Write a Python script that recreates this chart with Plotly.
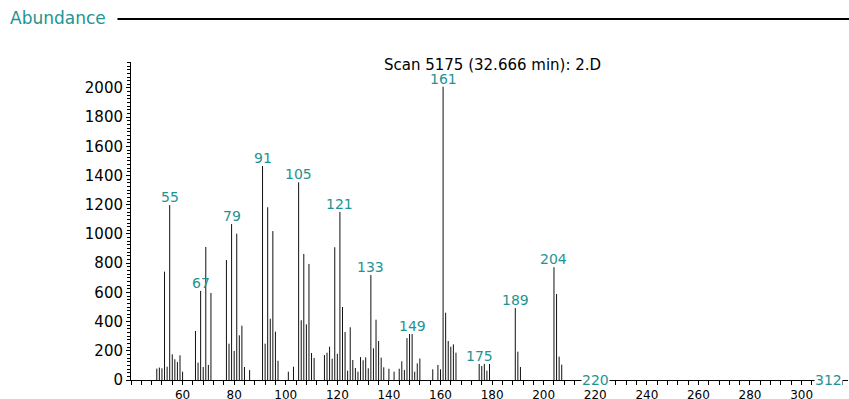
import plotly.graph_objects as go

# ---- data ----
mz = [50, 51, 52, 53, 54, 55, 56, 57, 58, 59, 60,
      65, 66, 67, 68, 69, 70, 71,
      77, 78, 79, 80, 81, 82, 83, 84, 86,
      91, 92, 93, 94, 95, 96, 97,
      101, 103, 105, 106, 107, 108, 109, 110, 111,
      115, 116, 117, 118, 119, 120, 121, 122, 123, 124, 125, 126, 127, 128,
      129, 130, 131, 132, 133, 134, 135, 136, 137, 138,
      140, 142, 144, 145, 146, 147, 148, 149, 150, 151, 152,
      157, 159, 160, 161, 162, 163, 164, 165, 166,
      175, 176, 177, 178, 179,
      189, 190, 191,
      204, 205, 206, 207,
      220, 312]
abundance = [78, 85, 80, 742, 91, 1198, 176, 142, 123, 169, 57,
             336, 119, 610, 89, 911, 103, 596,
             822, 249, 1068, 199, 1002, 306, 372, 89, 68,
             1466, 249, 1183, 420, 1020, 331, 132,
             57, 91, 1354, 409, 863, 381, 795, 185, 151,
             171, 187, 228, 146, 909, 180, 1151, 500, 329, 64, 361, 137, 82, 57,
             157, 135, 155, 80, 719, 217, 413, 267, 153, 87,
             77, 57, 77, 128, 68, 287, 315, 315, 57, 114, 147,
             73, 103, 73, 2009, 461, 267, 228, 244, 187,
             110, 96, 110, 64, 110,
             493, 194, 89,
             772, 589, 160, 105,
             3, 3]
labelled = [55, 67, 79, 91, 105, 121, 133, 149, 161, 175, 189, 204, 220, 312]
y_ticks = list(range(0, 2001, 200))
x_ticks = list(range(60, 301, 20))
title_text = "Scan 5175 (32.666 min): 2.D"
y_title = "Abundance"

TEAL = "#1f9393"
FONT = "DejaVu Sans"

# build stick lines from the data
xs, ys = [], []
for m, a in zip(mz, abundance):
    xs += [m, m, None]
    ys += [0, a, None]

fig = go.Figure()
fig.add_trace(go.Scatter(x=xs, y=ys, mode="lines",
                         line=dict(color="#111111", width=1),
                         hoverinfo="skip", showlegend=False))

abund_map = dict(zip(mz, abundance))
for m in labelled:
    low = abund_map[m] < 10
    fig.add_annotation(x=m, y=abund_map[m], xref="x", yref="y",
                       text=str(m), showarrow=False,
                       yanchor="bottom", yshift=-9 if low else -1,
                       xshift=-4 if m == 312 else 0,
                       bgcolor="white" if low else None,
                       borderpad=0,
                       font=dict(family=FONT, size=14, color=TEAL))

L, R, T, B = 130.5, 1.3, 62, 19
W, H = 849, 399
pw = W - L - R
ph = H - T - B

def px(xp):
    return (xp - L) / pw

def py(yp):
    return (H - B - yp) / ph

fig.add_annotation(x=px(492.5), y=py(65), xref="paper", yref="paper",
                   text=title_text, showarrow=False,
                   xanchor="center", yanchor="middle",
                   font=dict(family=FONT, size=15, color="black"))
fig.add_annotation(x=px(7), y=py(18), xref="paper", yref="paper",
                   text=y_title, showarrow=False,
                   xanchor="left", yanchor="middle",
                   font=dict(family=FONT, size=17, color=TEAL))
fig.add_shape(type="line", xref="paper", yref="paper",
              x0=px(117), x1=px(849), y0=py(19), y1=py(19),
              line=dict(color="black", width=2))

fig.update_layout(
    width=W, height=H,
    margin=dict(l=L, r=R, t=T, b=B, autoexpand=False),
    plot_bgcolor="white", paper_bgcolor="white",
    showlegend=False,
    font=dict(family=FONT, size=14, color="black"),
)
fig.update_xaxes(range=[40, 318], showgrid=False, zeroline=False,
                 showline=True, linecolor="black", linewidth=1,
                 tickmode="array", tickvals=x_ticks, ticktext=[str(v) for v in x_ticks],
                 ticks="outside", ticklen=4, tickcolor="black",
                 ticklabelstandoff=0,
                 minor=dict(dtick=4, tick0=0, ticks="outside", ticklen=4, tickcolor="black"),
                 tickfont=dict(family=FONT, size=12))
fig.update_yaxes(range=[0, 2178], showgrid=False, zeroline=False,
                 showline=True, linecolor="black", linewidth=1,
                 tickmode="array", tickvals=y_ticks, ticktext=[str(v) for v in y_ticks],
                 ticks="outside", ticklen=4, tickcolor="black",
                 minor=dict(dtick=25, tick0=0, ticks="outside", ticklen=3, tickcolor="black"),
                 tickfont=dict(family=FONT, size=15))

fig.write_html("out.html",
               config={"displayModeBar": False},
               post_script="document.body.style.margin='0px';document.body.style.overflow='hidden';")
